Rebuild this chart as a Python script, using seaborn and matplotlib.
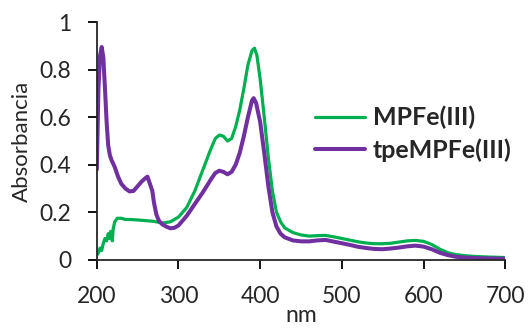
import numpy as np
import pandas as pd
import matplotlib
matplotlib.use("Agg")
import matplotlib.pyplot as plt
import seaborn as sns

# MPFe(III) spectrum (nm, absorbance)
mpfe_nm = [200, 202, 204, 206, 208, 210, 212, 214, 215, 217, 219, 220, 222, 225,
           230, 235, 240, 250, 260, 270, 280, 290, 300, 310, 320, 330, 340, 345,
           350, 355, 360, 365, 370, 375, 380, 385, 390, 393, 396, 400, 405, 410,
           415, 420, 425, 430, 440, 450, 460, 470, 480, 490, 500, 510, 520, 530,
           540, 550, 560, 570, 580, 590, 600, 610, 620, 630, 640, 650, 660, 680, 700]
mpfe_abs = [0.02, 0.03, 0.05, 0.04, 0.07, 0.09, 0.08, 0.11, 0.09, 0.12, 0.08, 0.13, 0.16, 0.175,
            0.175, 0.17, 0.17, 0.168, 0.165, 0.162, 0.155, 0.16, 0.18, 0.22, 0.29, 0.38, 0.47, 0.51,
            0.525, 0.52, 0.50, 0.51, 0.56, 0.63, 0.72, 0.82, 0.88, 0.89, 0.86, 0.76, 0.60, 0.43,
            0.29, 0.20, 0.16, 0.135, 0.115, 0.105, 0.10, 0.102, 0.103, 0.097, 0.09, 0.083, 0.076, 0.071,
            0.068, 0.068, 0.07, 0.075, 0.08, 0.082, 0.078, 0.065, 0.045, 0.03, 0.022, 0.018, 0.015, 0.012, 0.01]

# tpeMPFe(III) spectrum
tpe_nm = [200, 201, 202, 204, 206, 208, 210, 212, 214, 216, 218, 222, 226, 230, 235, 240,
          245, 250, 255, 260, 262, 264, 266, 268, 270, 273, 276, 280, 285, 290, 295, 300,
          310, 320, 330, 340, 345, 350, 355, 360, 365, 370, 375, 380, 385, 390, 392, 395,
          400, 405, 410, 415, 420, 425, 430, 440, 450, 460, 470, 480, 490, 500, 510, 520,
          530, 540, 550, 560, 570, 580, 590, 600, 610, 620, 630, 640, 650, 670, 700]
tpe_abs = [0.38, 0.55, 0.72, 0.86, 0.895, 0.85, 0.72, 0.58, 0.48, 0.44, 0.42, 0.39, 0.35, 0.32, 0.30, 0.288,
           0.29, 0.31, 0.33, 0.345, 0.35, 0.33, 0.31, 0.29, 0.24, 0.19, 0.165, 0.15, 0.14, 0.133, 0.135, 0.145,
           0.185, 0.235, 0.285, 0.34, 0.365, 0.375, 0.37, 0.36, 0.37, 0.40, 0.45, 0.52, 0.60, 0.67, 0.68, 0.66,
           0.58, 0.45, 0.31, 0.20, 0.14, 0.11, 0.095, 0.082, 0.078, 0.078, 0.082, 0.084, 0.077, 0.07, 0.063, 0.055,
           0.05, 0.046, 0.045, 0.048, 0.052, 0.057, 0.06, 0.056, 0.045, 0.03, 0.02, 0.013, 0.01, 0.007, 0.005]

labels = ["MPFe(III)", "tpeMPFe(III)"]
colors = ["#00B050", "#7030A0"]

df = pd.concat([
    pd.DataFrame({"nm": mpfe_nm, "abs": mpfe_abs, "sample": labels[0]}),
    pd.DataFrame({"nm": tpe_nm, "abs": tpe_abs, "sample": labels[1]}),
])

sns.set_style("ticks")
plt.rcParams["font.family"] = ["Lato", "DejaVu Sans"]

fig, ax = plt.subplots(figsize=(5.29, 3.29), dpi=100)
fig.subplots_adjust(left=0.183, right=0.955, top=0.933, bottom=0.21)

sns.lineplot(data=df, x="nm", y="abs", hue="sample", palette=colors,
             sort=False, ax=ax, legend=False)
ax.lines[0].set_linewidth(2.3)
ax.lines[1].set_linewidth(2.9)

ax.set_xlim(200, 700)
ax.set_ylim(0, 1)
ax.set_xticks(np.arange(200, 701, 100))
ax.set_yticks([0, 0.2, 0.4, 0.6, 0.8, 1.0])
ax.set_yticklabels(["0", "0.2", "0.4", "0.6", "0.8", "1"])
ax.tick_params(labelsize=16.5, width=1.3, length=6.5, color="black")
ax.tick_params(axis="y", pad=12)
ax.tick_params(axis="x", pad=12)
ax.set_xlabel("nm", fontsize=16.5)
ax.xaxis.set_label_coords(0.5, -0.19)
ax.set_ylabel("Absorbancia", fontsize=16)
ax.yaxis.set_label_coords(-0.16, 0.5)
for s in ["top", "right"]:
    ax.spines[s].set_visible(False)
for s in ["left", "bottom"]:
    ax.spines[s].set_linewidth(1.3)

handles = [plt.Line2D([], [], color=colors[0], lw=2.3),
           plt.Line2D([], [], color=colors[1], lw=2.9)]
ax.legend(handles, labels, loc="center left", bbox_to_anchor=(0.48, 0.53),
          frameon=False, prop={"weight": "bold", "size": 18},
          handlelength=2.0, handletextpad=0.3, labelspacing=0.35)

fig.savefig("out.png", dpi=100)
